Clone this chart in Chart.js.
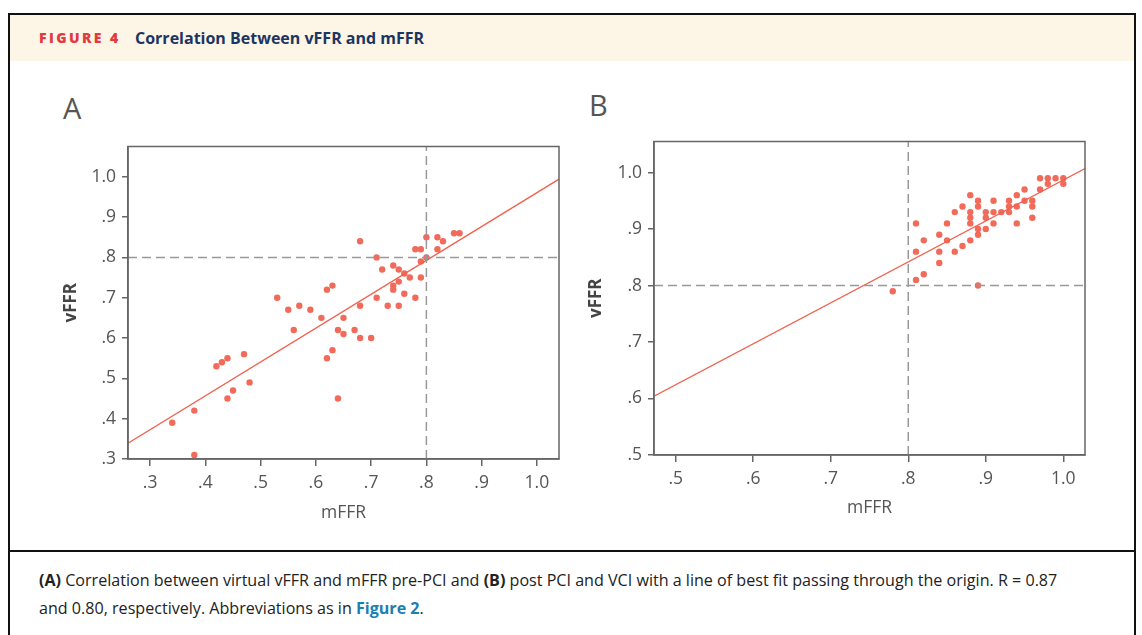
<!DOCTYPE html>
<html>
<head>
<meta charset="utf-8">
<script src="https://cdn.jsdelivr.net/npm/chart.js@4.4.1/dist/chart.umd.min.js"></script>
<style>
  body { margin: 0; background: #fff; font-family: "Open Sans", sans-serif; }
  .frame { position: absolute; left: 8px; top: 13px; width: 1128px; height: 640px;
           border: 2px solid #111; border-bottom: none; box-sizing: border-box; }
  .head { position: absolute; left: 0; top: 0; right: 0; height: 46px; background: #fdf6e6; }
  .fig { position: absolute; left: 29px; top: 13px; font-size: 14px; font-weight: 800;
         letter-spacing: 2.4px; color: #e23a3f; }
  .ttl { position: absolute; left: 125px; top: 12px; font-size: 16px; font-weight: 700; color: #1c3563; }
  .plab { position: absolute; font-size: 29px; color: #555; }
  .rule { position: absolute; left: 0; right: 0; top: 535px; height: 2px; background: #111; }
  .cap { position: absolute; left: 29px; top: 552px; width: 1030px; font-size: 16.1px;
         line-height: 27.5px; color: #222; }
  .cap a { color: #1a7fb5; font-weight: 700; text-decoration: none; }
  canvas { position: absolute; }
</style>
</head>
<body>
<div class="frame">
  <div class="head">
    <span class="fig">FIGURE 4</span>
    <span class="ttl">Correlation Between vFFR and mFFR</span>
  </div>
  <div class="plab" style="left:53px;top:73px;">A</div>
  <div class="plab" style="left:579px;top:70px;">B</div>
  <div class="rule"></div>
  <div class="cap"><b>(A)</b> Correlation between virtual vFFR and mFFR pre-PCI and <b>(B)</b> post PCI and VCI with a line of best fit passing through the origin. R = 0.87 and 0.80, respectively. Abbreviations as in <a>Figure 2</a>.</div>
</div>
<canvas id="chartA" width="530" height="400" style="left:40px;top:130px;"></canvas>
<canvas id="chartB" width="520" height="400" style="left:580px;top:125px;"></canvas>
<script>
// Panel A: pre-PCI
const mffrA = [0.34, 0.38, 0.38, 0.42, 0.43, 0.44, 0.44, 0.45, 0.47, 0.48, 0.53, 0.55, 0.56, 0.57, 0.59,
  0.61, 0.62, 0.63, 0.64, 0.63, 0.62, 0.64, 0.65, 0.65, 0.67, 0.68, 0.70, 0.68, 0.68, 0.71, 0.72, 0.71,
  0.73, 0.74, 0.75, 0.74, 0.74, 0.75, 0.75, 0.76, 0.76, 0.77, 0.78, 0.78, 0.79, 0.79, 0.79, 0.80, 0.80,
  0.82, 0.83, 0.82, 0.85, 0.86];
const vffrA = [0.39, 0.42, 0.31, 0.53, 0.54, 0.55, 0.45, 0.47, 0.56, 0.49, 0.70, 0.67, 0.62, 0.68, 0.67,
  0.65, 0.72, 0.73, 0.62, 0.57, 0.55, 0.45, 0.65, 0.61, 0.62, 0.60, 0.60, 0.68, 0.84, 0.80, 0.77, 0.70,
  0.68, 0.78, 0.77, 0.73, 0.72, 0.74, 0.68, 0.76, 0.71, 0.75, 0.70, 0.82, 0.82, 0.79, 0.75, 0.80, 0.85,
  0.85, 0.84, 0.82, 0.86, 0.86];
const fitAX = [0.26, 1.04];
const fitAY = [0.339, 0.994];
const xTicksA = [0.3, 0.4, 0.5, 0.6, 0.7, 0.8, 0.9, 1.0];
const yTicksA = [0.3, 0.4, 0.5, 0.6, 0.7, 0.8, 0.9, 1.0];
const rangeXA = [0.26, 1.04];
const rangeYA = [0.3, 1.075];

// Panel B: post-PCI
const mffrB = [0.78, 0.81, 0.82, 0.81, 0.81, 0.82, 0.84, 0.84, 0.84, 0.85, 0.85, 0.86, 0.86, 0.87, 0.87,
  0.88, 0.88, 0.88, 0.88, 0.88, 0.89, 0.89, 0.89, 0.89, 0.89, 0.90, 0.90, 0.90, 0.91, 0.91, 0.91, 0.92,
  0.93, 0.93, 0.93, 0.94, 0.94, 0.94, 0.95, 0.95, 0.96, 0.96, 0.96, 0.97, 0.97, 0.98, 0.98, 0.99, 1.00, 1.00];
const vffrB = [0.79, 0.81, 0.82, 0.86, 0.91, 0.88, 0.84, 0.86, 0.89, 0.88, 0.91, 0.86, 0.93, 0.87, 0.94,
  0.88, 0.91, 0.92, 0.93, 0.96, 0.89, 0.90, 0.94, 0.95, 0.80, 0.90, 0.92, 0.93, 0.91, 0.93, 0.95, 0.93,
  0.93, 0.94, 0.95, 0.91, 0.94, 0.96, 0.95, 0.97, 0.95, 0.94, 0.92, 0.97, 0.99, 0.99, 0.98, 0.99, 0.99, 0.98];
const fitBX = [0.472, 1.028];
const fitBY = [0.604, 1.007];
const xTicksB = [0.5, 0.6, 0.7, 0.8, 0.9, 1.0];
const yTicksB = [0.5, 0.6, 0.7, 0.8, 0.9, 1.0];
const rangeXB = [0.472, 1.028];
const rangeYB = [0.5, 1.055];

const cutoff = 0.8;
const dotColor = '#f26a5a';
const axisColor = '#666';
const tickFont = { family: 'Open Sans', size: 17.5 };

function tickText(v) {
    return v >= 1 ? v.toFixed(1) : v.toFixed(1).replace(/^0/, '');
}

const boxPlugin = {
    id: 'box',
    afterDraw(chart) {
        const { ctx, chartArea: a } = chart;
        ctx.save();
        ctx.strokeStyle = axisColor;
        ctx.lineWidth = 1.5;
        ctx.strokeRect(a.left, a.top, a.right - a.left, a.bottom - a.top);
        ctx.restore();
    }
};

function makeChart(id, xs, ys, fitX, fitY, xTicks, yTicks, rx, ry, lay) {
    const points = xs.map((x, i) => ({ x: x, y: ys[i] }));
    const dashed = { type: 'line', borderColor: '#999', borderWidth: 1.5, borderDash: [9, 5],
        pointRadius: 0, fill: false };
    return new Chart(document.getElementById(id), {
        type: 'scatter',
        data: {
            datasets: [
                Object.assign({ data: [{ x: cutoff, y: ry[0] }, { x: cutoff, y: ry[1] }] }, dashed),
                Object.assign({ data: [{ x: rx[0], y: cutoff }, { x: rx[1], y: cutoff }] }, dashed),
                { type: 'line', data: fitX.map((x, i) => ({ x: x, y: fitY[i] })),
                  borderColor: '#f0604d', borderWidth: 1.3, pointRadius: 0, fill: false },
                { data: points, backgroundColor: dotColor, borderWidth: 0, pointRadius: 3.2 }
            ]
        },
        options: {
            responsive: false,
            animation: false,
            layout: { padding: { left: 0, top: lay.top, right: lay.right, bottom: 0 } },
            plugins: { legend: { display: false }, tooltip: { enabled: false } },
            scales: {
                x: {
                    type: 'linear', min: rx[0], max: rx[1],
                    afterBuildTicks: s => { s.ticks = xTicks.map(v => ({ value: v })); },
                    afterFit: s => { s.height = lay.xh; },
                    ticks: { callback: tickText, font: tickFont, color: '#555', padding: 7, maxRotation: 0 },
                    grid: { drawOnChartArea: false, tickLength: 7, color: axisColor, lineWidth: 1.5 },
                    border: { color: axisColor, width: 1.5 },
                    title: { display: true, text: 'mFFR', color: '#555', font: { family: 'Open Sans', size: 17.5 },
                             padding: { bottom: 6 } }
                },
                y: {
                    type: 'linear', min: ry[0], max: ry[1],
                    afterBuildTicks: s => { s.ticks = yTicks.map(v => ({ value: v })); },
                    afterFit: s => { s.width = lay.yw; },
                    ticks: { callback: tickText, font: tickFont, color: '#555', padding: 6 },
                    grid: { drawOnChartArea: false, tickLength: 6, color: axisColor, lineWidth: 1.5 },
                    border: { color: axisColor, width: 1.5 },
                    title: { display: true, text: 'vFFR', color: '#444',
                             font: { family: 'Open Sans', size: 17, weight: 'bold' },
                             padding: { top: lay.yt } }
                }
            }
        },
        plugins: [boxPlugin]
    });
}

makeChart('chartA', mffrA, vffrA, fitAX, fitAY, xTicksA, yTicksA, rangeXA, rangeYA,
    { top: 13, right: 11, xh: 71, yw: 88, yt: 21 });
makeChart('chartB', mffrB, vffrB, fitBX, fitBY, xTicksB, yTicksB, rangeXB, rangeYB,
    { top: 12, right: 15, xh: 70, yw: 74, yt: 6 });
</script>
</body>
</html>
